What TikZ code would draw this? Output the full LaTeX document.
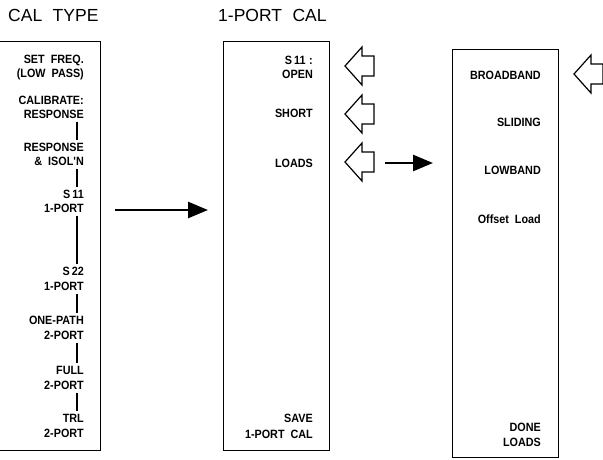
\documentclass[tikz,border=0pt]{standalone}
\usepackage{fontspec}
\setmainfont{Liberation Sans}
\newfontfamily\lblfont[FakeStretch=0.9]{Liberation Sans}
\usetikzlibrary{arrows.meta}
\begin{document}
\begin{tikzpicture}[x=1pt,y=-1pt,
  box/.style={draw,line width=1.3pt,inner sep=0pt,anchor=north west},
  lbl/.style={font=\lblfont\bfseries\fontsize{12}{13}\selectfont,inner sep=0pt,anchor=east,text height=8.6pt,text depth=0pt},
  ttl/.style={font=\fontsize{17.5}{19}\selectfont,inner sep=0pt,anchor=west,text height=12.5pt,text depth=0pt},
  vline/.style={line width=1.4pt,shorten <=3pt,shorten >=3pt},
  bigarrow/.style={line width=2.6pt,-{Triangle[length=20pt,width=16pt]}},
  hollow/.pic={\draw[line width=1.2pt,line join=miter] (0,0) -- (17,-19) -- (17,-10) -- (29,-10) -- (29,10) -- (17,10) -- (17,19) -- cycle;}
]
\useasboundingbox (0,0) rectangle (603,459);
% titles
\node[ttl] (t1) at (8,15) {CAL\hspace{0.6em}TYPE};
\node[ttl] (t2) at (218,15) {1-PORT\hspace{0.6em}CAL};
% boxes
\node[box,minimum width=102pt,minimum height=409pt] (b1) at (-2,41) {};
\node[box,minimum width=106pt,minimum height=409pt] (b2) at (223,41) {};
\node[box,minimum width=106pt,minimum height=408pt] (b3) at (452,49) {};
% box 1 labels
\coordinate (lx) at (77,0);
\node[lbl] (sf1) at (84,59) {SET\hspace{0.5em}FREQ.};
\node[lbl] (sf2) at (84,73) {(LOW\hspace{0.5em}PASS)};
\node[lbl] (c1) at (84,100) {CALIBRATE:};
\node[lbl] (c2) at (84,114) {RESPONSE};
\node[lbl] (r1) at (84,147) {RESPONSE};
\node[lbl] (r2) at (84,161) {\&\hspace{0.5em}ISOL'N};
\node[lbl] (s1a) at (84,194) {S\,11};
\node[lbl] (s1b) at (84,208) {1-PORT};
\node[lbl] (s2a) at (84,271) {S\,22};
\node[lbl] (s2b) at (84,286) {1-PORT};
\node[lbl] (o1) at (84,320) {ONE-PATH};
\node[lbl] (o2) at (84,335) {2-PORT};
\node[lbl] (f1) at (84,370) {FULL};
\node[lbl] (f2) at (84,385) {2-PORT};
\node[lbl] (tr1) at (84,418) {TRL};
\node[lbl] (tr2) at (84,433) {2-PORT};
\draw[vline] (c2.south -| lx) -- (r1.north -| lx);
\draw[vline] (r2.south -| lx) -- (s1a.north -| lx);
\draw[vline] (s1b.south -| lx) -- (s2a.north -| lx);
\draw[vline] (s2b.south -| lx) -- (o1.north -| lx);
\draw[vline] (o2.south -| lx) -- (f1.north -| lx);
\draw[vline] (f2.south -| lx) -- (tr1.north -| lx);
% box 2 labels
\node[lbl] (open1) at (313,60) {S\,11\hspace{0.3em}:};
\node[lbl] (open2) at (313,74) {OPEN};
\node[lbl] (short) at (313,113) {SHORT};
\node[lbl] (loads) at (313,163) {LOADS};
\node[lbl] (save1) at (313,418) {SAVE};
\node[lbl] (save2) at (313,434) {1-PORT\hspace{0.5em}CAL};
% box 3 labels
\node[lbl] (bb) at (541,75) {BROADBAND};
\node[lbl] (sl) at (541,122) {SLIDING};
\node[lbl] (lb) at (541,170) {LOWBAND};
\node[lbl] (ol) at (541,219) {Offset\hspace{0.5em}Load};
\node[lbl] (dl1) at (541,427) {DONE};
\node[lbl] (dl2) at (541,442) {LOADS};
% hollow softkey arrows
\pic (h1) at (345,66) {hollow};
\pic (h2) at (345,114) {hollow};
\pic (h3) at (345,162) {hollow};
\pic (h4) at (574,74) {hollow};
% big arrows
\coordinate (a1s) at (115,210);
\coordinate (a1e) at (208,210);
\coordinate (a2s) at (385,163);
\coordinate (a2e) at (433,163);
\draw[bigarrow] (a1s) -- (a1e);
\draw[bigarrow] (a2s) -- (a2e);
\end{tikzpicture}
\end{document}
